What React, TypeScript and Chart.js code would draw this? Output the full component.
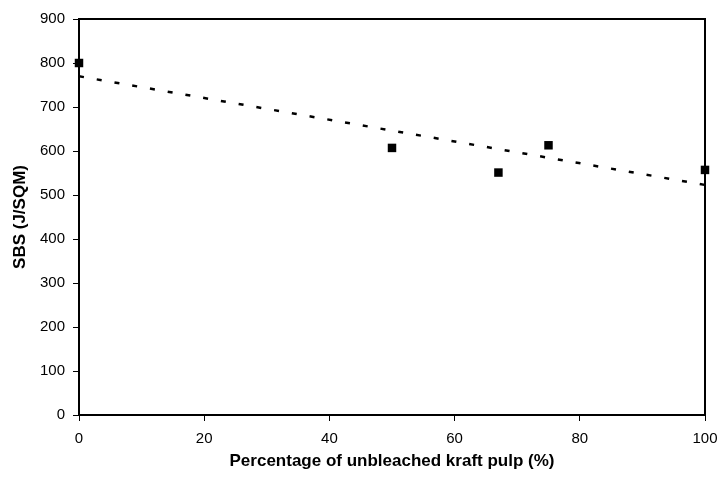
import React, { useEffect, useRef } from "react";
import { Chart, registerables } from "chart.js";

Chart.register(...registerables);

const pulpPercent: number[] = [0, 50, 67, 75, 100];
const sbsValues: number[] = [800, 607, 551, 613, 557];
const xTitle = "Percentage of unbleached kraft pulp (%)";
const yTitle = "SBS (J/SQM)";

function linearFit(xs: number[], ys: number[]) {
  const n = xs.length;
  const mx = xs.reduce((a, b) => a + b, 0) / n;
  const my = ys.reduce((a, b) => a + b, 0) / n;
  let sxy = 0;
  let sxx = 0;
  for (let i = 0; i < n; i++) {
    sxy += (xs[i] - mx) * (ys[i] - my);
    sxx += (xs[i] - mx) * (xs[i] - mx);
  }
  const slope = sxy / sxx;
  return { slope, intercept: my - slope * mx };
}

const frameBorder = {
  id: "frameBorder",
  beforeDatasetsDraw(chart: any) {
    const { ctx, chartArea } = chart;
    ctx.save();
    ctx.strokeStyle = "#000";
    ctx.lineWidth = 2;
    ctx.beginPath();
    ctx.moveTo(chartArea.left, chartArea.top);
    ctx.lineTo(chartArea.right, chartArea.top);
    ctx.lineTo(chartArea.right, chartArea.bottom);
    ctx.stroke();
    ctx.restore();
  },
};

const tickFont = { family: "'Liberation Sans', Arial", size: 15 };
const titleFont = { family: "'Liberation Sans', Arial", size: 17, weight: "bold" as const };

export default function App() {
  const ref = useRef<HTMLCanvasElement>(null);

  useEffect(() => {
    document.body.style.margin = "0";
    const fit = linearFit(pulpPercent, sbsValues);
    const trend = [0, 100].map((x) => ({ x, y: fit.intercept + fit.slope * x }));
    const chart = new Chart(ref.current!, {
      type: "scatter",
      data: {
        datasets: [
          {
            label: "SBS",
            data: pulpPercent.map((x, i) => ({ x, y: sbsValues[i] })),
            pointStyle: "rect",
            pointRadius: 6,
            pointBackgroundColor: "#000",
            pointBorderWidth: 0,
            showLine: false,
            clip: false,
          },
          {
            label: "Trend",
            data: trend,
            showLine: true,
            borderColor: "#000",
            borderWidth: 2.5,
            borderDash: [5, 13],
            pointRadius: 0,
          },
        ],
      },
      options: {
        animation: false,
        responsive: false,
        layout: { padding: { left: 0, top: 19, right: 17, bottom: 0 } },
        plugins: { legend: { display: false }, tooltip: { enabled: false } },
        scales: {
          x: {
            type: "linear",
            min: 0,
            max: 100,
            afterFit: (s: any) => {
              s.height = 63;
              s.paddingLeft = 0;
              s.paddingRight = 0;
            },
            ticks: {
              stepSize: 20,
              color: "#000",
              padding: 9,
              font: tickFont,
            },
            grid: { drawOnChartArea: false, drawTicks: true, tickLength: 6, color: "#000", lineWidth: 1 },
            border: { display: true, color: "#000", width: 2 },
            title: {
              display: true,
              text: xTitle,
              color: "#000",
              font: titleFont,
              padding: { top: 0, bottom: 6 },
            },
          },
          y: {
            type: "linear",
            min: 0,
            max: 900,
            afterFit: (s: any) => {
              s.width = 79;
              s.paddingTop = 0;
              s.paddingBottom = 0;
            },
            ticks: {
              stepSize: 100,
              color: "#000",
              padding: 8,
              font: tickFont,
            },
            grid: { drawOnChartArea: false, drawTicks: true, tickLength: 6, color: "#000", lineWidth: 1 },
            border: { display: true, color: "#000", width: 2 },
            title: {
              display: true,
              text: yTitle,
              color: "#000",
              font: titleFont,
              padding: { top: 10, bottom: 0 },
            },
          },
        },
      },
      plugins: [frameBorder],
    });
    return () => chart.destroy();
  }, []);

  return (
    <div style={{ width: 722, height: 478, background: "#fff" }}>
      <canvas ref={ref} width={722} height={478} />
    </div>
  );
}
